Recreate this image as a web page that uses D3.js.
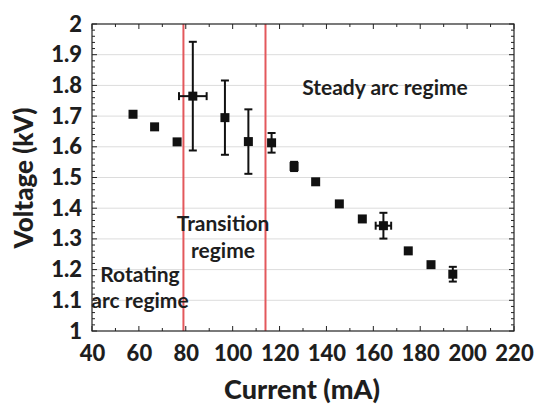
<!DOCTYPE html>
<html>
<head>
<meta charset="utf-8">
<script src="https://cdn.jsdelivr.net/npm/d3@7"></script>
<style>
  html, body { margin: 0; padding: 0; background: #fff; }
  svg { display: block; font-family: "Lato", "Open Sans", sans-serif; }
</style>
</head>
<body>
<svg id="chart" width="537" height="404"></svg>
<script>
// Discharge current (mA) and measured voltage (kV)
const current = [57.5, 66.7, 76.3, 83.0, 96.7, 106.7, 116.6, 126.2, 135.4, 145.5, 155.3, 164.3, 174.9, 184.6, 193.9];
const voltage = [1.706, 1.665, 1.616, 1.765, 1.695, 1.617, 1.613, 1.536, 1.486, 1.414, 1.365, 1.343, 1.261, 1.216, 1.185];
// Error bar half-widths
const voltageErr = [0, 0, 0, 0.177, 0.121, 0.105, 0.032, 0.015, 0, 0, 0, 0.042, 0, 0, 0.024];
const currentErr = [0, 0, 0, 5.9, 0, 0, 0, 0, 0, 0, 0, 3.3, 0, 0, 0];
// Regime boundaries (mA)
const boundaries = [79, 114];
// Tick labels
const xTicks = [40, 60, 80, 100, 120, 140, 160, 180, 200, 220];
const yTicks = [1, 1.1, 1.2, 1.3, 1.4, 1.5, 1.6, 1.7, 1.8, 1.9, 2];

const svg = d3.select("#chart");
const m = { left: 92, top: 24, right: 514, bottom: 331 };
const ink = "#1e1e1e";

const x = d3.scaleLinear().domain([40, 220]).range([m.left, m.right]);
const y = d3.scaleLinear().domain([1, 2]).range([m.bottom, m.top]);

// Horizontal gridlines
svg.append("g").selectAll("line").data(yTicks.slice(1, -1)).join("line")
  .attr("x1", m.left).attr("x2", m.right)
  .attr("y1", d => y(d)).attr("y2", d => y(d))
  .attr("stroke", "#dcdcdc").attr("stroke-width", 1);

// Inward ticks on all four sides
const xMinor = d3.range(40, 221, 10);
const yMinor = d3.range(0, 51).map(i => 1 + i * 0.02);
const ticks = svg.append("g").attr("stroke", "#222").attr("stroke-width", 1);
xMinor.forEach(v => {
  const len = v % 20 === 0 ? 5 : 3;
  ticks.append("line").attr("x1", x(v)).attr("x2", x(v)).attr("y1", m.bottom).attr("y2", m.bottom - len);
  ticks.append("line").attr("x1", x(v)).attr("x2", x(v)).attr("y1", m.top).attr("y2", m.top + len);
});
yMinor.forEach((v, i) => {
  const len = i % 5 === 0 ? 5 : 3;
  ticks.append("line").attr("y1", y(v)).attr("y2", y(v)).attr("x1", m.left).attr("x2", m.left + len);
  ticks.append("line").attr("y1", y(v)).attr("y2", y(v)).attr("x1", m.right).attr("x2", m.right - len);
});

// Regime boundary lines
svg.append("g").selectAll("line").data(boundaries).join("line")
  .attr("x1", d => x(d)).attr("x2", d => x(d))
  .attr("y1", m.top).attr("y2", m.bottom)
  .attr("stroke", "#e3585c").attr("stroke-width", 2);

// Plot frame
svg.append("rect")
  .attr("x", m.left).attr("y", m.top)
  .attr("width", m.right - m.left).attr("height", m.bottom - m.top)
  .attr("fill", "none").attr("stroke", "#222").attr("stroke-width", 1.2);

// Axis tick labels
const xAxis = d3.axisBottom(x).tickValues(xTicks).tickSize(0).tickPadding(14).tickFormat(d3.format("d"));
const gx = svg.append("g").attr("transform", `translate(0,${m.bottom})`).call(xAxis);
gx.select(".domain").remove();
gx.selectAll("text").attr("font-size", 22).attr("font-weight", 900).attr("fill", ink)
  .attr("font-family", "Lato, sans-serif");

const yAxis = d3.axisLeft(y).tickValues(yTicks).tickSize(0).tickPadding(10).tickFormat(d => d3.format("")(d));
const gy = svg.append("g").attr("transform", `translate(${m.left},0)`).call(yAxis);
gy.select(".domain").remove();
gy.selectAll("text").attr("font-size", 22).attr("font-weight", 900).attr("fill", ink)
  .attr("font-family", "Lato, sans-serif");

// Axis titles
svg.append("text").attr("x", 302).attr("y", 399).attr("text-anchor", "middle")
  .attr("font-size", 27).attr("font-weight", 900).attr("fill", ink).text("Current (mA)");
svg.append("text").attr("transform", "translate(33,178) rotate(-90)").attr("text-anchor", "middle")
  .attr("font-size", 26).attr("font-weight", 900).attr("fill", ink).text("Voltage (kV)");

// Error bars
const data = current.map((c, i) => ({ c, v: voltage[i], ev: voltageErr[i], ec: currentErr[i] }));
const eb = svg.append("g").attr("stroke", "#111").attr("stroke-width", 2);
const cap = 4;
data.filter(d => d.ev > 0).forEach(d => {
  eb.append("line").attr("x1", x(d.c)).attr("x2", x(d.c)).attr("y1", y(d.v - d.ev)).attr("y2", y(d.v + d.ev));
  [d.v - d.ev, d.v + d.ev].forEach(e =>
    eb.append("line").attr("x1", x(d.c) - cap).attr("x2", x(d.c) + cap).attr("y1", y(e)).attr("y2", y(e)));
});
data.filter(d => d.ec > 0).forEach(d => {
  eb.append("line").attr("y1", y(d.v)).attr("y2", y(d.v)).attr("x1", x(d.c - d.ec)).attr("x2", x(d.c + d.ec));
  [d.c - d.ec, d.c + d.ec].forEach(e =>
    eb.append("line").attr("y1", y(d.v) - cap).attr("y2", y(d.v) + cap).attr("x1", x(e)).attr("x2", x(e)));
});

// Square markers
const s = 9;
svg.append("g").selectAll("rect").data(data).join("rect")
  .attr("x", d => x(d.c) - s / 2).attr("y", d => y(d.v) - s / 2)
  .attr("width", s).attr("height", s)
  .attr("fill", "#111");

// Regime labels
const lab = svg.append("g").attr("font-size", 21).attr("font-weight", "bold").attr("fill", ink)
  .attr("text-anchor", "middle");
lab.append("text").attr("x", 385).attr("y", 95).text("Steady arc regime");
lab.append("text").attr("x", 223).attr("y", 231).text("Transition");
lab.append("text").attr("x", 223).attr("y", 258).text("regime");
lab.append("text").attr("x", 140).attr("y", 282).text("Rotating");
lab.append("text").attr("x", 140).attr("y", 308).text("arc regime");
</script>
</body>
</html>
